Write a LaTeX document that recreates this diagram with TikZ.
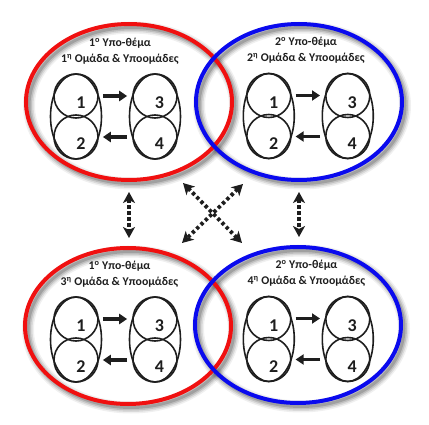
\documentclass[tikz,border=0pt]{standalone}
\usepackage{fontspec}
\setmainfont{Carlito}
\usetikzlibrary{shapes.geometric,arrows.meta}
\definecolor{myred}{HTML}{F01010}
\definecolor{myblue}{HTML}{0A0AEE}
\definecolor{ink}{HTML}{1E1E1E}
\tikzset{
 bigell/.style={draw, ellipse, minimum width=206pt, minimum height=156pt, inner sep=0pt, line width=4pt},
 pill/.style={draw=ink, ellipse, minimum width=51pt, minimum height=85pt, inner sep=0pt, line width=1.6pt},
 ball/.style={draw=ink, circle, minimum size=44pt, inner sep=0pt, line width=1.6pt},
 num/.style={font=\fontsize{18}{18}\bfseries\selectfont, text=ink, inner sep=0pt},
 ttl/.style={font=\fontsize{11.8}{13}\bfseries\selectfont, text=ink, inner sep=0pt, anchor=base},
 flow/.style={draw=ink, line width=3.5pt, -{Triangle[width=10pt,length=8pt]}},
 link/.style={draw=ink, line width=3.8pt, dash pattern=on 3.3pt off 2.7pt,
   {Stealth[length=11pt,width=12pt,inset=3pt]}-{Stealth[length=11pt,width=12pt,inset=3pt]}},
}
\newcommand\myshadow[2]{%
 \foreach \w/\o in {12/0.06,9/0.09,6/0.12,3/0.16}{%
  \draw[line width=\w pt, black, opacity=\o] ({#1+3},{#2+3.5}) ellipse [x radius=103, y radius=78];}}
\newcommand\mygrp[6]{%
 \node[pill] (#1L) at ({#2-39.5},#3) {};
 \node[pill] (#1R) at ({#2+39.5},#3) {};
 \node[ball] (#1a) at ({#2-39.5},{#3-20.5}) {};
 \node[ball] (#1b) at ({#2-39.5},{#3+20.5}) {};
 \node[ball] (#1c) at ({#2+39.5},{#3-20.5}) {};
 \node[ball] (#1d) at ({#2+39.5},{#3+20.5}) {};
 \node[num] (#1n1) at ([shift={(5,7)}]#1a.center) {1};
 \node[num] (#1n2) at ([shift={(5,7)}]#1b.center) {2};
 \node[num] (#1n3) at ([shift={(4.5,7)}]#1c.center) {3};
 \node[num] (#1n4) at ([shift={(4.5,7)}]#1d.center) {4};
 \draw[flow, shorten <=0.5pt, shorten >=1.5pt] ([shift={(0,-20.5)}]#1L.east) -- ([shift={(0,-20.5)}]#1R.west);
 \draw[flow, shorten <=1.5pt, shorten >=0.5pt] ([shift={(0,20.5)}]#1R.west) -- ([shift={(0,20.5)}]#1L.east);
 \node[ttl] (#1t1) at (#4,{#3-70}) {#5};
 \node[ttl] (#1t2) at (#4,{#3-54}) {#6};
}
\begin{document}
\begin{tikzpicture}[x=1pt,y=-1pt]
\useasboundingbox (0,0) rectangle (429,425);
\myshadow{129}{102}
\myshadow{299}{102}
\myshadow{128}{326}
\myshadow{298}{325}
\node[bigell, draw=myred] (E1) at (129,102) {};
\node[bigell, draw=myred] (E3) at (128,326) {};
\node[bigell, draw=myblue] (E2) at (299,102) {};
\node[bigell, draw=myblue] (E4) at (298,325) {};
\mygrp{A}{115.5}{116.5}{120}{1\textsuperscript{o} Υπο-θέμα}{1\textsuperscript{η} Ομάδα \& Υποομάδες}
\mygrp{B}{308.3}{116}{306}{2\textsuperscript{o} Υπο-θέμα}{2\textsuperscript{η} Ομάδα \& Υποομάδες}
\mygrp{C}{115.5}{339.5}{119.5}{1\textsuperscript{o} Υπο-θέμα}{3\textsuperscript{η} Ομάδα \& Υποομάδες}
\mygrp{D}{308.3}{339}{306.5}{2\textsuperscript{o} Υπο-θέμα}{4\textsuperscript{η} Ομάδα \& Υποομάδες}
\coordinate (d1) at (183,183);
\coordinate (d2) at (242,243);
\coordinate (d3) at (243,184);
\coordinate (d4) at (182,243);
\draw[link, shorten <=10pt, shorten >=8pt] (E1.south) -- (E1.south |- E3.north);
\draw[link, shorten <=10pt, shorten >=8pt] (E2.south) -- (E2.south |- E4.north);
\draw[link] (d1) -- (d2);
\draw[link] (d3) -- (d4);
\end{tikzpicture}
\end{document}
